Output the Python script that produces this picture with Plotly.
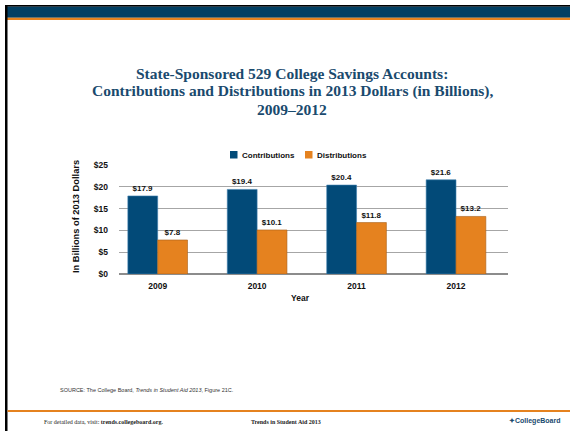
import plotly.graph_objects as go

# Data (billions of 2013 dollars)
years = ["2009", "2010", "2011", "2012"]
contributions = [17.9, 19.4, 20.4, 21.6]
distributions = [7.8, 10.1, 11.8, 13.2]
y_ticks = [0, 5, 10, 15, 20, 25]
y_tick_labels = ["$0", "$5", "$10", "$15", "$20", "$25"]
series_names = ["Contributions", "Distributions"]
title_lines = [
    "State-Sponsored 529 College Savings Accounts:",
    "Contributions and Distributions in 2013 Dollars (in Billions),",
    "2009–2012",
]

W, H = 570, 431
NAVY = "#024a78"
BAND = "#023f63"
ORANGE = "#e5821f"
TITLE_NAVY = "#1a4a6e"
INK = "#111111"


def px_x(x):
    return x / W


def px_y(y):
    return 1 - y / H


label_font = dict(family="Liberation Sans", size=8, color=INK, weight="bold")
axis_font = dict(family="Liberation Sans", size=8.5, color=INK, weight="bold")

fig = go.Figure()
for name, vals, color, edge in [
    (series_names[0], contributions, NAVY, "#3f7fae"),
    (series_names[1], distributions, ORANGE, "#a8601a"),
]:
    fig.add_trace(go.Bar(
        name=name, x=years, y=vals,
        marker=dict(color=color, line=dict(color=edge, width=0.6)),
        texttemplate="$%{y:.1f}", textposition="outside",
        textfont=label_font, cliponaxis=False, showlegend=False,
    ))

shapes = [
    # top rule and header band
    dict(type="rect", xref="paper", yref="paper", x0=px_x(5), x1=1, y0=px_y(6.7), y1=px_y(5),
         fillcolor="#000000", line_width=0, layer="above"),
    dict(type="rect", xref="paper", yref="paper", x0=px_x(5), x1=1, y0=px_y(17.7), y1=px_y(6.7),
         fillcolor=BAND, line_width=0, layer="above"),
    dict(type="rect", xref="paper", yref="paper", x0=px_x(5), x1=1, y0=px_y(20), y1=px_y(17.7),
         fillcolor=ORANGE, line_width=0, layer="above"),
    # left border
    dict(type="rect", xref="paper", yref="paper", x0=px_x(5), x1=px_x(7.5), y0=0, y1=px_y(5),
         fillcolor="#000000", line_width=0, layer="above"),
    # footer rule
    dict(type="rect", xref="paper", yref="paper", x0=px_x(7.5), x1=1, y0=px_y(412), y1=px_y(410),
         fillcolor=ORANGE, line_width=0, layer="above"),
    # legend swatches
    dict(type="rect", xref="paper", yref="paper", x0=px_x(230), x1=px_x(237.5), y0=px_y(158.5),
         y1=px_y(151), fillcolor=NAVY, line_width=0),
    dict(type="rect", xref="paper", yref="paper", x0=px_x(305), x1=px_x(312.5), y0=px_y(158.5),
         y1=px_y(151), fillcolor=ORANGE, line_width=0),
]

annotations = []
for i, line in enumerate(title_lines):
    annotations.append(dict(
        text=f"<b>{line}</b>", x=px_x(292), y=px_y(73 + 18 * i), xref="paper", yref="paper",
        xanchor="center", yanchor="middle", showarrow=False,
        font=dict(family="Liberation Serif", size=15.5, color=TITLE_NAVY)))

annotations += [
    dict(text=f"<b>{series_names[0]}</b>", x=px_x(240), y=px_y(155), xref="paper", yref="paper",
         xanchor="left", yanchor="middle", showarrow=False, font=label_font),
    dict(text=f"<b>{series_names[1]}</b>", x=px_x(315), y=px_y(155), xref="paper", yref="paper",
         xanchor="left", yanchor="middle", showarrow=False, font=label_font),
    dict(text="<b>In Billions of 2013 Dollars</b>", textangle=-90,
         x=px_x(76), y=px_y(217), xref="paper", yref="paper", xanchor="center", yanchor="middle",
         showarrow=False, font=dict(family="Liberation Sans", size=9.3, color=INK, weight="bold")),
    dict(text="<b>Year</b>",
         x=px_x(300), y=px_y(298), xref="paper", yref="paper", xanchor="center", yanchor="middle",
         showarrow=False, font=axis_font),
    dict(text="SOURCE: The College Board, <i>Trends in Student Aid 2013</i>, Figure 21C.",
         x=px_x(58), y=px_y(390), xref="paper", yref="paper", xanchor="left", yanchor="middle",
         showarrow=False, font=dict(family="Liberation Sans", size=5.5, color="#333333")),
    dict(text="For detailed data, visit: <b>trends.collegeboard.org.</b>",
         x=px_x(42), y=px_y(422), xref="paper", yref="paper", xanchor="left", yanchor="middle",
         showarrow=False, font=dict(family="Liberation Serif", size=6, color="#222222")),
    dict(text="<b>Trends in Student Aid 2013</b>",
         x=px_x(286), y=px_y(422), xref="paper", yref="paper", xanchor="center", yanchor="middle",
         showarrow=False, font=dict(family="Liberation Serif", size=6, color="#222222")),
    dict(text="<b>✦CollegeBoard</b>",
         x=px_x(535), y=px_y(421), xref="paper", yref="paper", xanchor="center", yanchor="middle",
         showarrow=False, font=dict(family="Liberation Sans", size=7, color=TITLE_NAVY)),
]

fig.update_layout(
    template="none",
    width=W, height=H,
    margin=dict(l=0, r=0, t=0, b=0),
    paper_bgcolor="white", plot_bgcolor="white",
    barmode="group", bargap=0.4, bargroupgap=0,
    showlegend=False,
    xaxis=dict(type="category", domain=[px_x(119), px_x(508)], range=[-0.389, 3.523],
               automargin=False, showgrid=False, showline=False, ticks="",
               ticklabelstandoff=5, tickfont=axis_font),
    yaxis=dict(domain=[px_y(274), px_y(165)], range=[0, 25], automargin=False,
               tickvals=y_ticks, ticktext=y_tick_labels, ticks="", showline=False,
               showgrid=True, gridcolor="#a6a6a6", gridwidth=1.3,
               zeroline=True, zerolinecolor="#8c8c8c", zerolinewidth=1.5,
               ticklabelstandoff=10, tickfont=axis_font),
    shapes=shapes,
    annotations=annotations,
)

fig.write_html("out.html")
